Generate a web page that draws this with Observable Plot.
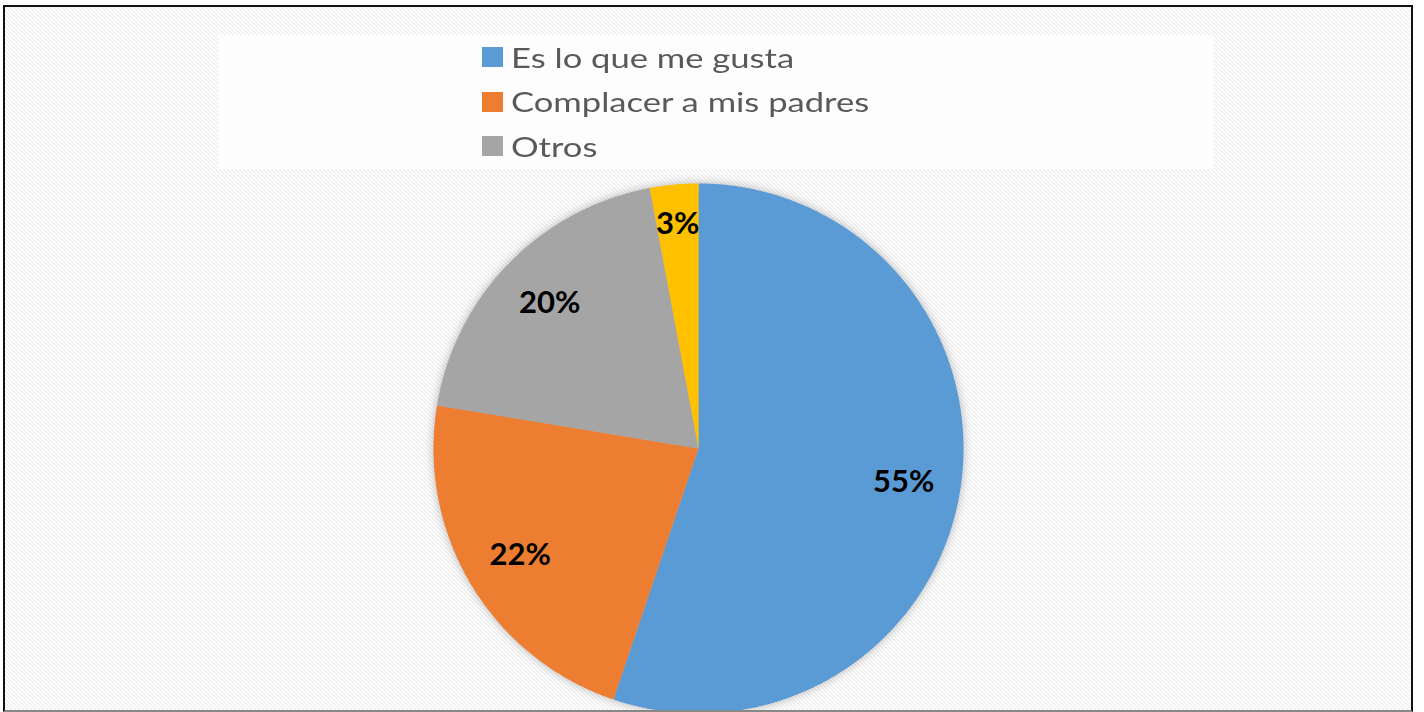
<!DOCTYPE html>
<html>
<head>
<meta charset="utf-8">
<script src="https://cdn.jsdelivr.net/npm/d3@7"></script>
<script src="https://cdn.jsdelivr.net/npm/@observablehq/plot@0.6"></script>
<style>
  html, body { margin: 0; padding: 0; background: #ffffff; }
  #page { position: relative; width: 1424px; height: 712px; overflow: hidden; background: #fff; }
  #frame {
    position: absolute; left: 3px; top: 5px; width: 1410px; height: 707px;
    box-sizing: border-box; border: 2px solid #111; border-bottom: 2px solid #888;
    overflow: hidden;
    background-color: #fbfbfb;
    background-image: url("data:image/svg+xml;utf8,<svg xmlns='http://www.w3.org/2000/svg' width='4' height='4' shape-rendering='crispEdges'><rect width='4' height='4' fill='%23ffffff'/><rect x='0' y='0' width='1' height='1' fill='%23ededed'/><rect x='1' y='1' width='1' height='1' fill='%23ededed'/><rect x='2' y='2' width='1' height='1' fill='%23ededed'/><rect x='3' y='3' width='1' height='1' fill='%23ededed'/><rect x='1' y='0' width='1' height='1' fill='%23f3f3f3'/><rect x='2' y='1' width='1' height='1' fill='%23f3f3f3'/><rect x='3' y='2' width='1' height='1' fill='%23f3f3f3'/><rect x='0' y='3' width='1' height='1' fill='%23f3f3f3'/></svg>");
    background-size: 4px 4px;
  }
  #inner { position: absolute; left: -5px; top: -7px; width: 1424px; height: 712px; }
  #legend {
    position: absolute; left: 218px; top: 35px; width: 996px; height: 134px;
    background: #fdfdfd; box-sizing: border-box;
  }
  .item { position: absolute; left: 264px; height: 44px; display: flex; align-items: center;
    font-family: Lato, "Open Sans", sans-serif; font-size: 27px; color: #595959; white-space: nowrap; }
  .sw { width: 21px; height: 20px; margin-right: 8px; }
  .item span { display: inline-block; transform: scaleX(1.28); transform-origin: left center; }
  #chart { position: absolute; left: 0; top: 0; }
  #chart g[aria-label="line"] { filter: drop-shadow(0px 0px 5px rgba(0,0,0,0.28)); }
</style>
</head>
<body>
<div id="page">
  <div id="frame">
    <div id="inner">
      <div id="legend"></div>
      <div id="chart"></div>
    </div>
  </div>
</div>
<script>
// ---- data ----
const categories = ["Es lo que me gusta", "Complacer a mis padres", "Otros", "Otros (2)"];
const values = [55.2, 22.4, 19.45, 2.95];
const labels = ["55%", "22%", "20%", "3%"];
const colors = ["#5B9BD5", "#ED7D31", "#A5A5A5", "#FFC000"];
const legendCategories = ["Es lo que me gusta", "Complacer a mis padres", "Otros"];

// ---- layout ----
const W = 1424, H = 712;
const cx = 698, cy = 448, R = 265;

// ---- legend ----
const legend = document.getElementById("legend");
legendCategories.forEach((c, i) => {
  const it = document.createElement("div");
  it.className = "item";
  it.style.top = (0 + i * 44.5) + "px";
  const sw = document.createElement("div");
  sw.className = "sw";
  sw.style.background = colors[categories.indexOf(c)];
  it.appendChild(sw);
  const t = document.createElement("span");
  t.textContent = c;
  it.appendChild(t);
  legend.appendChild(it);
});

// ---- pie geometry from values ----
const rows = categories.map((c, i) => ({name: c, value: values[i], label: labels[i]}));
const arcs = d3.pie().sort(null).value(d => d.value)(rows);
const wedgePts = [];
arcs.forEach(a => {
  const n = Math.max(4, Math.ceil((a.endAngle - a.startAngle) / 0.01));
  wedgePts.push({name: a.data.name, x: 0, y: 0});
  for (let k = 0; k <= n; k++) {
    const t = a.startAngle + (a.endAngle - a.startAngle) * k / n;
    wedgePts.push({name: a.data.name, x: Math.sin(t), y: Math.cos(t)});
  }
  wedgePts.push({name: a.data.name, x: 0, y: 0});
});
const labelPts = arcs.map(a => {
  const m = (a.startAngle + a.endAngle) / 2;
  const small = (a.endAngle - a.startAngle) < 0.4;
  const r = small ? 0.85 : 0.785;
  return {name: a.data.name, label: a.data.label, x: r * Math.sin(m), y: r * Math.cos(m)};
});

const chart = Plot.plot({
  width: W, height: H,
  margin: 0,
  style: {background: "transparent", overflow: "visible"},
  x: {domain: [-cx / R, (W - cx) / R], range: [0, W], axis: null},
  y: {domain: [cy / R, -(H - cy) / R], range: [0, H], axis: null},
  color: {domain: categories, range: colors},
  marks: [
    Plot.line(wedgePts, {x: "x", y: "y", z: "name", fill: "name", stroke: null, curve: "linear"}),
    Plot.text(labelPts, {x: "x", y: "y", text: "label", fill: "#000",
      fontSize: 31, fontWeight: "bold", fontFamily: "Lato, 'Open Sans', sans-serif"})
  ]
});
document.getElementById("chart").appendChild(chart);
</script>
</body>
</html>
